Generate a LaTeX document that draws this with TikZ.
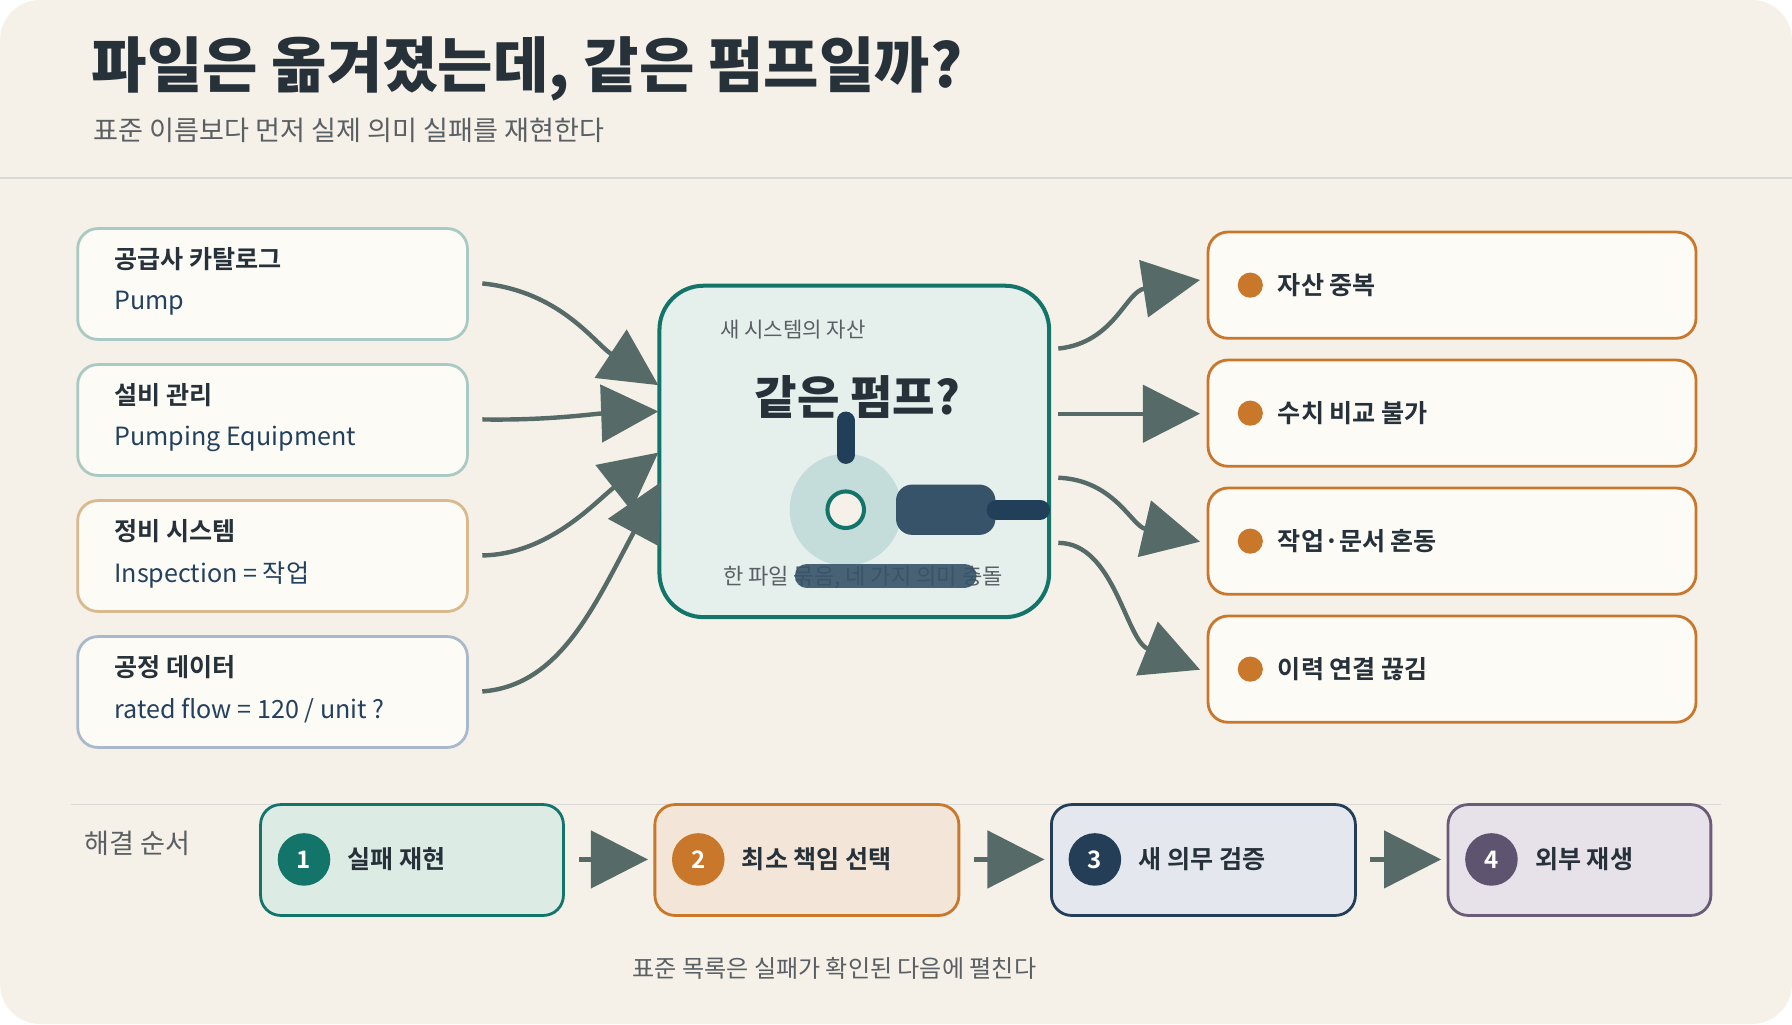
\documentclass[tikz,border=0pt]{standalone}
\usepackage{fontspec}
\setmainfont{Noto Sans CJK KR}[BoldFont={Noto Sans CJK KR Bold}]
\newfontfamily\heavy{Noto Sans CJK KR Black}
\usetikzlibrary{arrows.meta,positioning}
\definecolor{bg}{HTML}{F5F1E8}
\definecolor{ink}{HTML}{26313A}
\definecolor{gr}{HTML}{5A5F63}
\definecolor{card}{HTML}{FCFBF5}
\definecolor{teal}{HTML}{13756A}
\definecolor{tealL}{HTML}{A9C9C4}
\definecolor{tan}{HTML}{D9B98E}
\definecolor{bluL}{HTML}{A9B8CB}
\definecolor{navy}{HTML}{23405E}
\definecolor{org}{HTML}{C9782B}
\definecolor{arr}{HTML}{566B67}
\definecolor{dk}{HTML}{213F58}
\definecolor{dk2}{HTML}{365369}
\definecolor{cfill}{HTML}{E5EFEB}
\definecolor{f1}{HTML}{DDEBE5}
\definecolor{f2}{HTML}{F3E6D8}
\definecolor{f3}{HTML}{E4E8EE}
\definecolor{f4}{HTML}{E7E2EA}
\definecolor{c3}{HTML}{253E57}
\definecolor{c4}{HTML}{6A5C78}
\definecolor{c4d}{HTML}{5F546F}
\begin{document}
\begin{tikzpicture}[x=0.02cm,y=-0.02cm,
 lcard/.style={draw,line width=1.4pt,fill=card,rounded corners=10pt},
 rcard/.style={draw=org,line width=1.4pt,fill=card,rounded corners=10pt},
 ttl/.style={anchor=west,font=\bfseries\fontsize{12.5}{14}\selectfont,text=ink},
 sub/.style={anchor=west,font=\fontsize{12.5}{14}\selectfont,text=navy},
 flow/.style={draw=arr,line width=2.2pt,-{Triangle[length=1cm,width=1cm]}},
 stepbox/.style={draw,line width=1.4pt,rounded corners=10pt},
 num/.style={circle,minimum size=0.92cm,inner sep=0pt,text=white,font=\bfseries\fontsize{12}{14}\selectfont}]
\useasboundingbox (0,0) rectangle (1568,896);
\fill[bg,rounded corners=20pt] (0,0) rectangle (1568,896);
\draw[black!15,line width=0.8pt] (0,156) -- (1568,156);
\node[anchor=west,font=\heavy\fontsize{30}{34}\selectfont,text=ink] (title) at (74,60) {파일은 옮겨졌는데, 같은 펌프일까?};
\node[anchor=west,font=\fontsize{13.5}{16}\selectfont,text=gr] (subt) at (76,114) {표준 이름보다 먼저 실제 의미 실패를 재현한다};
% left cards
\foreach \n/\y/\c/\a/\b in {l1/200/tealL/공급사 카탈로그/Pump, l2/319/tealL/설비 관리/Pumping Equipment, l3/438/tan/정비 시스템/Inspection = 작업, l4/557/bluL/공정 데이터/{rated flow = 120 / unit ?}}{
 \draw[lcard,draw=\c] (68,\y) rectangle (409,\y+97);
 \node[ttl] (\n t) at (94,\y+27) {\a};
 \node[sub] (\n s) at (94,\y+65) {\b};
}
% center
\draw[draw=teal,line width=2pt,fill=cfill,rounded corners=22pt] (577,250) rectangle (918,540);
\node[anchor=west,font=\fontsize{10.5}{12}\selectfont,text=gr] (cl) at (624,288) {새 시스템의 자산};
\node[font=\heavy\fontsize{23}{26}\selectfont,text=ink] (cq) at (750,347) {같은 펌프?};
\fill[teal!25!white] (740,446) circle (49);
\draw[dk,line width=9pt,line cap=round] (740,368) -- (740,398);
\draw[teal,line width=2pt,fill=bg] (740,446) circle (16);
\fill[dk2,rounded corners=8pt] (784,424) rectangle (871,468);
\draw[dk,line width=10pt,line cap=round] (872,446) -- (910,446);
\node[font=\fontsize{11}{13}\selectfont,text=gr] (cb) at (755,505) {한 파일 묶음, 네 가지 의미 충돌};
\draw[dk2,opacity=0.9,line width=12pt,line cap=round] (706,504) -- (844,504);
% left arrows
\coordinate (a1) at (422,248); \coordinate (a2) at (422,367); \coordinate (a3) at (422,486); \coordinate (a4) at (422,605);
\coordinate (e1) at (576,337); \coordinate (e2) at (576,360); \coordinate (e3) at (576,396); \coordinate (e4) at (578,422);
\draw[flow] (a1) .. controls (490,255) and (520,300) .. (e1);
\draw[flow] (a2) .. controls (480,368) and (520,362) .. (e2);
\draw[flow] (a3) .. controls (480,485) and (520,440) .. (e3);
\draw[flow] (a4) .. controls (490,600) and (520,530) .. (e4);
% right cards
\foreach \n/\y/\t in {r1/203/자산 중복, r2/315/수치 비교 불가, r3/427/작업·문서 혼동, r4/539/이력 연결 끊김}{
 \draw[rcard] (1057,\y) rectangle (1484,\y+93);
 \fill[org] (1094,\y+46.5) circle (11);
 \node[ttl] (\n) at (1112,\y+46.5) {\t};
}
\coordinate (b1) at (926,305); \coordinate (b2) at (926,362); \coordinate (b3) at (926,418); \coordinate (b4) at (926,475);
\coordinate (g1x) at (1050,245); \coordinate (g2x) at (1050,362); \coordinate (g3x) at (1050,474); \coordinate (g4x) at (1050,586);
\draw[flow] (b1) .. controls (975,300) and (985,255) .. (g1x);
\draw[flow] (b2) -- (g2x);
\draw[flow] (b3) .. controls (975,420) and (990,460) .. (g3x);
\draw[flow] (b4) .. controls (975,475) and (985,560) .. (g4x);
% bottom
\draw[black!15,line width=0.8pt] (62,704) -- (1506,704);
\node[anchor=west,font=\fontsize{13.5}{16}\selectfont,text=gr] (hs) at (68,738) {해결 순서};
\foreach \n/\x/\w/\f/\c/\d/\k/\t in {s1/228/265/f1/teal/teal/1/실패 재현, s2/573/266/f2/org/org/2/최소 책임 선택, s3/920/266/f3/c3/c3/3/새 의무 검증, s4/1267/230/f4/c4/c4d/4/외부 재생}{
 \draw[stepbox,draw=\c,fill=\f] (\x,704) rectangle (\x+\w,801);
 \node[num,fill=\d] (\n c) at (\x+38,752) {\k};
 \node[ttl] (\n) at (\x+70,752) {\t};
}
\coordinate (g1) at (507,752); \coordinate (h1) at (567,752);
\coordinate (g2) at (852,752); \coordinate (h2) at (914,752);
\coordinate (g3) at (1199,752); \coordinate (h3) at (1261,752);
\draw[flow] (g1) -- (h1); \draw[flow] (g2) -- (h2); \draw[flow] (g3) -- (h3);
\node[font=\fontsize{12}{14}\selectfont,text=gr] (cap) at (730,847) {표준 목록은 실패가 확인된 다음에 펼친다};
\end{tikzpicture}
\end{document}
